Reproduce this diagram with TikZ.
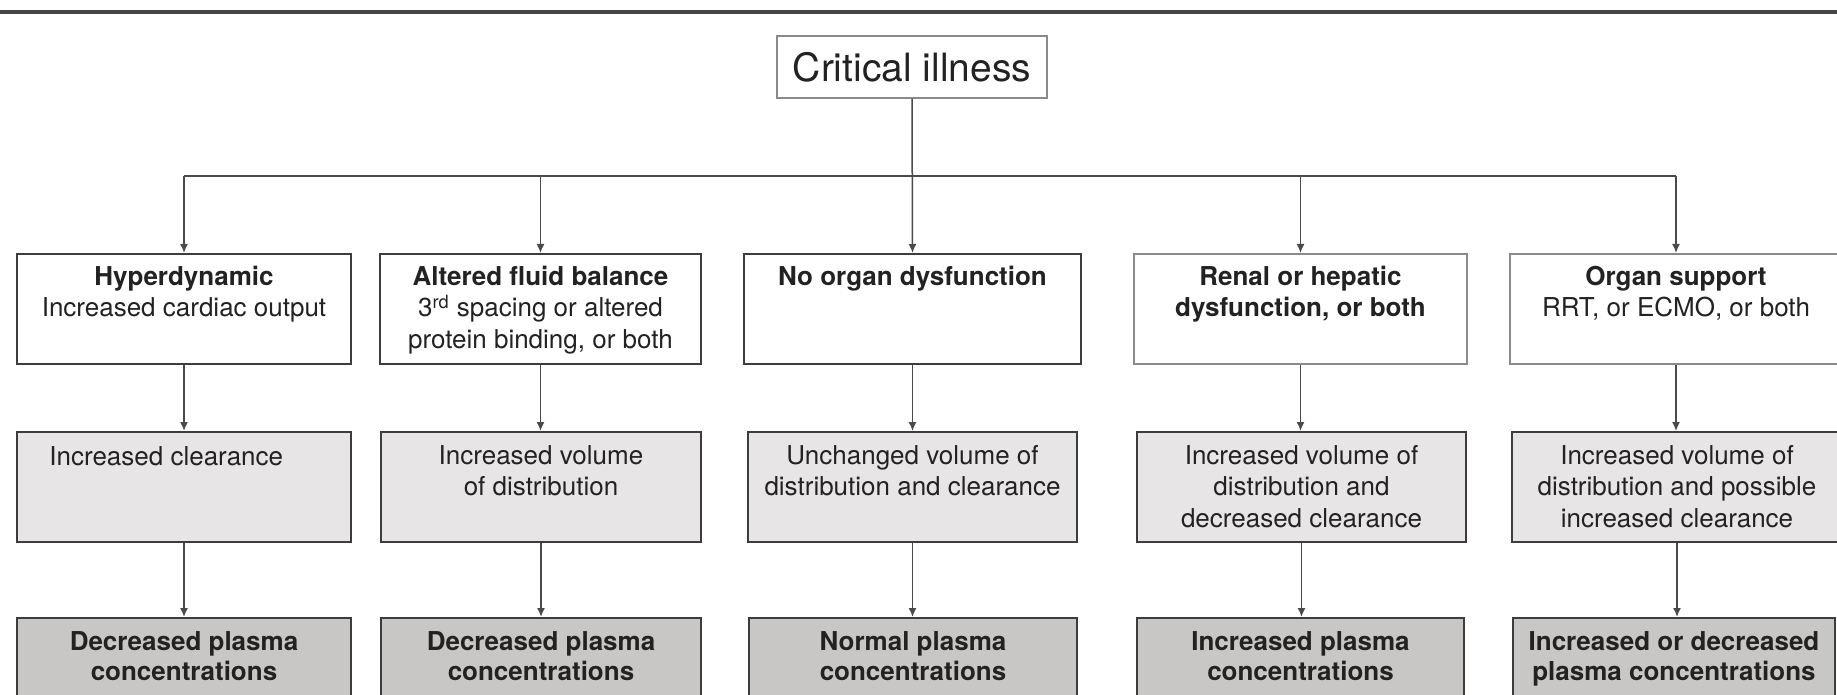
\documentclass[tikz,border=0pt]{standalone}
\usepackage{fontspec}
\setmainfont{TeX Gyre Heros}
\usetikzlibrary{arrows.meta}
\definecolor{ink}{HTML}{222222}
\definecolor{edge}{HTML}{3D3D3D}
\definecolor{softedge}{HTML}{8A8A8A}
\definecolor{wire}{HTML}{4A4A4A}
\definecolor{midfill}{HTML}{E7E5E5}
\definecolor{darkfill}{HTML}{C9C7C6}
\definecolor{rulecol}{HTML}{454545}
\begin{document}
\begin{tikzpicture}[x=0.5pt,y=-0.5pt,
  box/.style={draw=edge, line width=1pt, rectangle, inner sep=0pt},
  cause/.style={box, fill=white, minimum height=55pt},
  effect/.style={box, fill=midfill, minimum height=55pt},
  outcome/.style={box, fill=darkfill, minimum height=46pt},
  txt/.style={inner sep=0pt, text=ink, align=center, font=\fontsize{13}{15.75}\selectfont},
  conn/.style={draw=wire, line width=0.75pt},
  arr/.style={conn, -{Latex[length=4.5pt,width=4pt]}},
]
\useasboundingbox (0,0) rectangle (1837,695);

% heavy rule across the top
\draw[rulecol, line width=2pt] (0,12.5) -- (1837,12.5);

% root
\node[draw=softedge, line width=0.75pt, fill=white, inner sep=0pt,
      minimum width=135pt, minimum height=31pt, text=ink,
      font=\fontsize{19.5}{23}\selectfont] (root) at (912,67) {Critical illness};

% first row: conditions
\node[cause, minimum width=167pt]   (b1) at (184,309)    {};
\node[cause, minimum width=160.5pt] (b2) at (540.5,309)  {};
\node[cause, minimum width=168.5pt] (b3) at (912.5,309)  {};
\node[cause, minimum width=166.5pt, draw=softedge] (b4) at (1300.5,309) {};
\node[cause, minimum width=166pt, draw=softedge]   (b5) at (1676,309)   {};

% second row: pharmacokinetic changes
\node[effect, minimum width=167pt]   (c1) at (184,487)    {};
\node[effect, minimum width=160pt]   (c2) at (541,487)    {};
\node[effect, minimum width=164.5pt] (c3) at (912.5,487)  {};
\node[effect, minimum width=164.5pt] (c4) at (1301.5,487) {};
\node[effect, minimum width=165pt]   (c5) at (1677,487)   {};

% third row: resulting concentrations
\node[outcome, minimum width=167pt]   (d1) at (184,664)    {};
\node[outcome, minimum width=160pt]   (d2) at (541,664)    {};
\node[outcome, minimum width=164pt]   (d3) at (913,664)    {};
\node[outcome, minimum width=163.5pt] (d4) at (1300.5,664) {};
\node[outcome, minimum width=161pt]   (d5) at (1674,664)   {};

% labels, first row
\node[txt, anchor=north] (tb1) at ([yshift=-5pt]b1.north) {\strut\textbf{Hyperdynamic}\\Increased cardiac output};
\node[txt, anchor=north] (tb2) at ([yshift=-5pt]b2.north) {\strut\textbf{Altered fluid balance}\\3\textsuperscript{rd} spacing or altered\\protein binding, or both};
\node[txt, anchor=north] (tb3) at ([yshift=-5pt]b3.north) {\strut\textbf{No organ dysfunction}};
\node[txt, anchor=north] (tb4) at ([yshift=-5pt]b4.north) {\strut\textbf{Renal or hepatic}\\\textbf{dysfunction, or both}};
\node[txt, anchor=north] (tb5) at ([yshift=-5pt]b5.north) {\strut\textbf{Organ support}\\RRT, or ECMO, or both};

% labels, second row
\node[txt, anchor=north west] (tc1) at ([yshift=-5.5pt]49,432) {\strut Increased clearance};
\node[txt, anchor=north] (tc2) at ([yshift=-5.5pt]c2.north) {\strut Increased volume\\of distribution};
\node[txt, anchor=north] (tc3) at ([yshift=-5.5pt]c3.north) {\strut Unchanged volume of\\distribution and clearance};
\node[txt, anchor=north] (tc4) at ([yshift=-5.5pt]c4.north) {\strut Increased volume of\\distribution and\\decreased clearance};
\node[txt, anchor=north] (tc5) at ([yshift=-5.5pt]c5.north) {\strut Increased volume of\\distribution and possible\\increased clearance};

% labels, third row
\node[txt, anchor=north, font=\fontsize{13}{15}\selectfont\bfseries] (td1) at ([yshift=-6pt]d1.north) {\strut Decreased plasma\\concentrations};
\node[txt, anchor=north, font=\fontsize{13}{15}\selectfont\bfseries] (td2) at ([yshift=-6pt]d2.north) {\strut Decreased plasma\\concentrations};
\node[txt, anchor=north, font=\fontsize{13}{15}\selectfont\bfseries] (td3) at ([yshift=-6pt]d3.north) {\strut Normal plasma\\concentrations};
\node[txt, anchor=north, font=\fontsize{13}{15}\selectfont\bfseries] (td4) at ([yshift=-6pt]d4.north) {\strut Increased plasma\\concentrations};
\node[txt, anchor=north, font=\fontsize{13}{15}\selectfont\bfseries] (td5) at ([yshift=-6pt]d5.north) {\strut Increased or decreased\\plasma concentrations};

% branching from the root
\coordinate (fork) at (912,176);
\draw[conn] (b1.north |- fork) -- (b5.north |- fork);
\draw[arr] (root.south) -- (b3.north);
\foreach \k in {1,2,4,5}
  \draw[arr] (b\k.north |- fork) -- (b\k.north);

% down each column
\foreach \k in {1,...,5} {
  \draw[arr] (b\k.south) -- (b\k.south |- c\k.north);
  \draw[arr] (c\k.south) -- (c\k.south |- d\k.north);
}
\end{tikzpicture}
\end{document}
